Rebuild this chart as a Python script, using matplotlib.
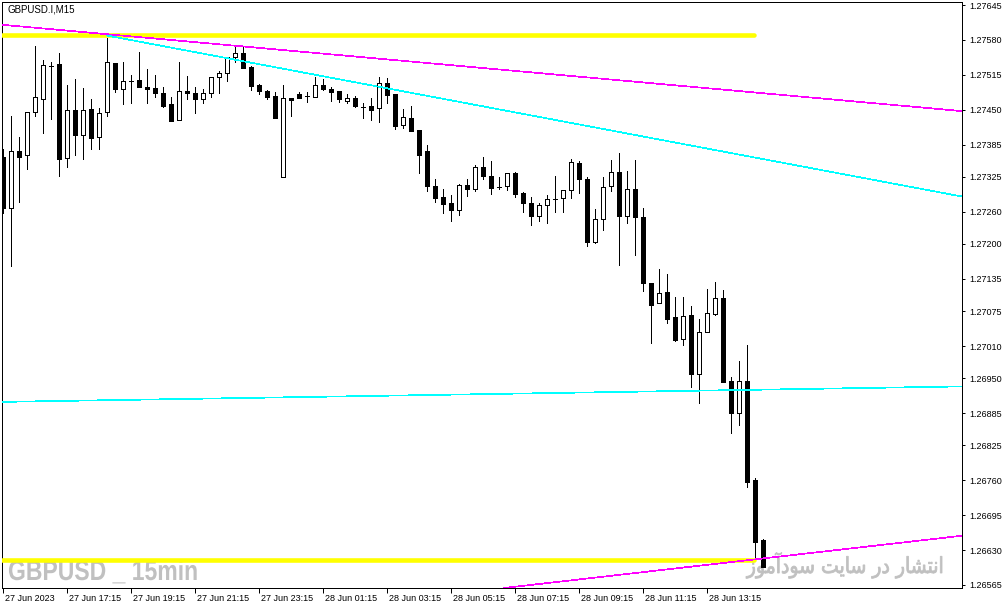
import matplotlib
matplotlib.use('Agg')
import matplotlib.pyplot as plt
import matplotlib.transforms as mtransforms
from matplotlib.textpath import TextPath
from matplotlib.patches import PathPatch
from matplotlib.font_manager import FontProperties

plt.rcParams['font.family'] = ['Liberation Sans', 'DejaVu Sans']

# GBPUSD M15 bars, 27 Jun 15:15 -> 28 Jun 15:00
opens = [1.27362, 1.27267, 1.27373, 1.27366, 1.27446, 1.27470, 1.27531, 1.27535, 1.27360, 1.27449,
         1.27403, 1.27451, 1.27399, 1.27446, 1.27537, 1.27489, 1.27503, 1.27505, 1.27492, 1.27490,
         1.27481, 1.27461, 1.27431, 1.27485, 1.27481, 1.27470, 1.27481, 1.27511, 1.27518, 1.27548,
         1.27556, 1.27530, 1.27496, 1.27485, 1.27476, 1.27325, 1.27472, 1.27479, 1.27476, 1.27474,
         1.27496, 1.27489, 1.27485, 1.27466, 1.27472, 1.27455, 1.27457, 1.27453, 1.27500, 1.27479,
         1.27422, 1.27435, 1.27412, 1.27373, 1.27308, 1.27287, 1.27276, 1.27263, 1.27310, 1.27302,
         1.27343, 1.27327, 1.27306, 1.27308, 1.27332, 1.27295, 1.27276, 1.27252, 1.27273, 1.27284,
         1.27286, 1.27301, 1.27351, 1.27321, 1.27204, 1.27247, 1.27308, 1.27334, 1.27252, 1.27302,
         1.27250, 1.27127, 1.27090, 1.27111, 1.27064, 1.27023, 1.27068, 1.26958, 1.27036, 1.27070,
         1.27099, 1.26945, 1.26885, 1.26945, 1.26761, 1.26649]
highs = [1.27377, 1.27438, 1.27399, 1.27446, 1.27569, 1.27543, 1.27539, 1.27556, 1.27496, 1.27507,
         1.27490, 1.27470, 1.27453, 1.27584, 1.27537, 1.27539, 1.27515, 1.27557, 1.27526, 1.27515,
         1.27492, 1.27474, 1.27539, 1.27513, 1.27492, 1.27489, 1.27511, 1.27522, 1.27548, 1.27569,
         1.27567, 1.27531, 1.27498, 1.27487, 1.27483, 1.27496, 1.27472, 1.27483, 1.27483, 1.27511,
         1.27507, 1.27492, 1.27485, 1.27479, 1.27476, 1.27463, 1.27472, 1.27511, 1.27509, 1.27479,
         1.27451, 1.27457, 1.27412, 1.27384, 1.27321, 1.27302, 1.27291, 1.27312, 1.27321, 1.27347,
         1.27362, 1.27355, 1.27325, 1.27332, 1.27334, 1.27297, 1.27287, 1.27276, 1.27291, 1.27327,
         1.27301, 1.27358, 1.27355, 1.27325, 1.27265, 1.27325, 1.27356, 1.27369, 1.27336, 1.27356,
         1.27267, 1.27127, 1.27153, 1.27144, 1.27101, 1.27101, 1.27085, 1.27060, 1.27116, 1.27129,
         1.27114, 1.26952, 1.26982, 1.27012, 1.26764, 1.26651]
lows = [1.27258, 1.27159, 1.27278, 1.27340, 1.27438, 1.27407, 1.27433, 1.27327, 1.27343, 1.27366,
        1.27358, 1.27377, 1.27377, 1.27438, 1.27483, 1.27461, 1.27463, 1.27492, 1.27463, 1.27474,
        1.27455, 1.27429, 1.27431, 1.27470, 1.27444, 1.27463, 1.27474, 1.27481, 1.27503, 1.27539,
        1.27528, 1.27487, 1.27479, 1.27470, 1.27435, 1.27325, 1.27438, 1.27472, 1.27464, 1.27474,
        1.27487, 1.27466, 1.27464, 1.27463, 1.27455, 1.27435, 1.27431, 1.27427, 1.27463, 1.27414,
        1.27416, 1.27410, 1.27332, 1.27299, 1.27278, 1.27258, 1.27243, 1.27254, 1.27289, 1.27299,
        1.27321, 1.27293, 1.27302, 1.27301, 1.27287, 1.27260, 1.27235, 1.27243, 1.27239, 1.27260,
        1.27260, 1.27286, 1.27295, 1.27196, 1.27202, 1.27226, 1.27299, 1.27161, 1.27239, 1.27179,
        1.27112, 1.27016, 1.27090, 1.27053, 1.27019, 1.27012, 1.26934, 1.26904, 1.27036, 1.27068,
        1.26943, 1.26848, 1.26863, 1.26748, 1.26612, 1.26599]
closes = [1.27267, 1.27373, 1.27362, 1.27446, 1.27474, 1.27533, 1.27531, 1.27358, 1.27449, 1.27403,
          1.27449, 1.27397, 1.27444, 1.27539, 1.27489, 1.27503, 1.27503, 1.27492, 1.27489, 1.27481,
          1.27457, 1.27429, 1.27485, 1.27481, 1.27470, 1.27481, 1.27511, 1.27518, 1.27548, 1.27556,
          1.27528, 1.27494, 1.27485, 1.27474, 1.27435, 1.27472, 1.27468, 1.27472, 1.27476, 1.27496,
          1.27489, 1.27483, 1.27470, 1.27472, 1.27457, 1.27455, 1.27449, 1.27500, 1.27477, 1.27420,
          1.27436, 1.27410, 1.27366, 1.27308, 1.27286, 1.27274, 1.27263, 1.27310, 1.27302, 1.27343,
          1.27327, 1.27304, 1.27306, 1.27332, 1.27293, 1.27276, 1.27252, 1.27273, 1.27284, 1.27284,
          1.27301, 1.27353, 1.27321, 1.27204, 1.27247, 1.27306, 1.27334, 1.27252, 1.27302, 1.27250,
          1.27127, 1.27086, 1.27109, 1.27060, 1.27021, 1.27066, 1.26958, 1.27036, 1.27072, 1.27099,
          1.26943, 1.26885, 1.26945, 1.26757, 1.26645, 1.26599]

time_labels = ['27 Jun 2023', '27 Jun 17:15', '27 Jun 19:15', '27 Jun 21:15', '27 Jun 23:15',
               '28 Jun 01:15', '28 Jun 03:15', '28 Jun 05:15', '28 Jun 07:15', '28 Jun 09:15',
               '28 Jun 11:15', '28 Jun 13:15']
price_ticks = [1.26565, 1.26630, 1.26695, 1.26760, 1.26825, 1.26885, 1.26950, 1.27010, 1.27075,
               1.27135, 1.27200, 1.27260, 1.27325, 1.27385, 1.27450, 1.27515, 1.27580, 1.27645]

# drawn objects: (bar, price) anchor pairs
resist_line = [(0, 1.27608), (100, 1.27474)]     # magenta, top
down_channel = [(13, 1.27588), (100, 1.27344)]   # cyan, top
flat_line = [(0, 1.26906), (100, 1.26930)]       # cyan, lower
support_line = [(80, 1.26589), (100, 1.26623)]   # magenta, bottom
yellow_levels = [1.27589, 1.26612]
yellow_end = 93.9

watermark = 'GBPUSD _ 15min'
site_text = 'انتشار در سایت سودآموز'

# simple arabic shaping for the letters used (iso, fin, ini, med)
FORMS = {
    'ا': ('\ufe8d', '\ufe8e', None, None),
    'آ': ('\ufe81', '\ufe82', None, None),
    'ن': ('\ufee5', '\ufee6', '\ufee7', '\ufee8'),
    'ت': ('\ufe95', '\ufe96', '\ufe97', '\ufe98'),
    'ش': ('\ufeb5', '\ufeb6', '\ufeb7', '\ufeb8'),
    'ر': ('\ufead', '\ufeae', None, None),
    'د': ('\ufea9', '\ufeaa', None, None),
    'ز': ('\ufeaf', '\ufeb0', None, None),
    'س': ('\ufeb1', '\ufeb2', '\ufeb3', '\ufeb4'),
    'ی': ('\ufeef', '\ufef0', '\ufef3', '\ufef4'),
    'و': ('\ufeed', '\ufeee', None, None),
    'م': ('\ufee1', '\ufee2', '\ufee3', '\ufee4'),
}


def shape(text):
    out = []
    for i, ch in enumerate(text):
        if ch not in FORMS:
            out.append(ch)
            continue
        prev = text[i - 1] if i > 0 else ''
        nxt = text[i + 1] if i + 1 < len(text) else ''
        jp = prev in FORMS and FORMS[prev][2] is not None
        jn = nxt in FORMS and FORMS[ch][2] is not None
        iso, fin, ini, med = FORMS[ch]
        if jp and jn:
            out.append(med)
        elif jp:
            out.append(fin)
        elif jn:
            out.append(ini)
        else:
            out.append(iso)
    return ''.join(reversed(out))


W, H = 1008, 609
fig = plt.figure(figsize=(W / 100, H / 100), dpi=100)
ax = fig.add_axes([2 / W, 21 / H, 960 / W, 586 / H])
xmax = 119.84
ax.set_xlim(-0.1625, xmax)
ax.set_ylim(1.265594, 1.276506)

lw = 0.72
tl = 0.5   # thin object lines
x = list(range(len(opens)))
ax.vlines(x, lows, highs, color='black', lw=lw, zorder=2, antialiased=False)
faces = ['white' if c >= o else 'black' for o, c in zip(opens, closes)]
heights = [c - o for o, c in zip(opens, closes)]
ax.bar(x, heights, bottom=opens, width=0.55, color=faces, edgecolor='black',
       linewidth=lw, zorder=3, antialiased=False)

# trend lines
ax.axline(resist_line[0], resist_line[1], color='#ff00ff', lw=tl, zorder=5, antialiased=False)
(b1, p1), (b2, p2) = down_channel
slope = (p2 - p1) / (b2 - b1)
ax.plot([b1, xmax], [p1, p1 + slope * (xmax - b1)], color='#00ffff', lw=tl, zorder=5,
        antialiased=False)
ax.axline(flat_line[0], flat_line[1], color='#00ffff', lw=tl, zorder=5, antialiased=False)
ax.axline(support_line[0], support_line[1], color='#ff00ff', lw=tl, zorder=6, antialiased=False)
for lvl in yellow_levels:
    ax.plot([-0.2, yellow_end], [lvl, lvl], color='#ffff00', lw=3.3, zorder=4,
            solid_capstyle='round')

# axes look
for s in ax.spines.values():
    s.set_linewidth(lw)
    s.set_color('black')
ax.yaxis.tick_right()
ax.set_yticks(price_ticks)
ax.set_yticklabels(['%.5f' % p for p in price_ticks])
ax.tick_params(axis='y', direction='out', length=2.5, width=lw, pad=2.5, labelsize=6.5)
ax.set_xticks(range(0, 96, 8))
ax.set_xticklabels(time_labels, ha='left')
ax.tick_params(axis='x', direction='out', length=3.6, width=lw, pad=0.5, labelsize=6.5)
offset = mtransforms.ScaledTranslation(2 / 100, 0, fig.dpi_scale_trans)
for lbl in ax.get_xticklabels():
    lbl.set_transform(lbl.get_transform() + offset)

# texts
ax.text(7 / W, 1 - 10 / H, 'GBPUSD.I,M15', transform=fig.transFigure, va='center',
        fontsize=7, color='black')

# narrow bold watermark: squeeze a bold text path horizontally
wm_path = TextPath((0, 0), watermark, size=28,
                   prop=FontProperties(family='Liberation Sans', weight='bold'))
wm_trans = mtransforms.Affine2D().scale(0.82, 1).translate(8, H - 580)
ax.add_artist(PathPatch(wm_path, transform=wm_trans, facecolor='#c0c0c0',
                        edgecolor='none', zorder=1, clip_on=False))

# persian site note, squeezed a little so it keeps its height, right edge at x=943
fa_path = TextPath((0, 0), shape(site_text), size=22,
                   prop=FontProperties(family='DejaVu Sans'))
fa_box = fa_path.get_extents()
fa_sx = 196 / fa_box.width
fa_trans = mtransforms.Affine2D().scale(fa_sx, 1).translate(942 - fa_box.x1 * fa_sx, H - 573)
ax.add_artist(PathPatch(fa_path, transform=fa_trans, facecolor='#c0c0c0',
                        edgecolor='#c0c0c0', linewidth=0.6, zorder=1, clip_on=False))

fig.savefig('out.png', dpi=100)
